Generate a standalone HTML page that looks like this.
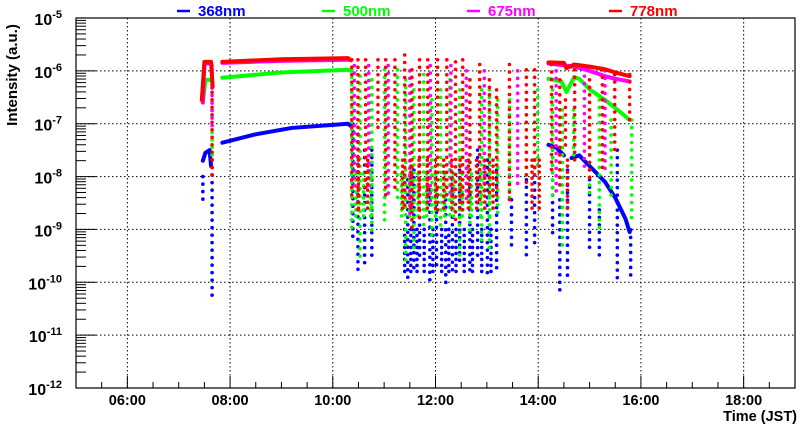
<!DOCTYPE html>
<html><head><meta charset="utf-8"><style>
html,body{margin:0;padding:0;background:#fff;}
svg{display:block;font-family:"Liberation Sans",sans-serif;font-weight:bold;}
</style></head><body>
<svg id="c" width="800" height="427" viewBox="0 0 800 427" xmlns="http://www.w3.org/2000/svg"></svg>
<script>
// ---- data (time in hours JST, value as log10 intensity) ----
const xTicks = [6, 8, 10, 12, 14, 16, 18];
const xTickLabels = ["06:00", "08:00", "10:00", "12:00", "14:00", "16:00", "18:00"];
const yDecades = [-12, -11, -10, -9, -8, -7, -6, -5];
const seriesNames = ["368nm", "500nm", "675nm", "778nm"];
const seriesColors = ["#0000ff", "#00ff00", "#ff00ff", "#ff0000"];

const blueLines = [
  [[7.47,-7.7],[7.52,-7.55],[7.6,-7.5],[7.63,-7.8]],
  [[7.85,-7.36],[8.5,-7.2],[9.2,-7.08],[10.3,-7.0],[10.36,-7.05]],
  [[14.2,-7.4],[14.35,-7.45],[14.5,-7.6]],
  [[14.65,-7.65],[14.8,-7.6],[15.0,-7.8],[15.3,-8.1],[15.5,-8.4],[15.7,-8.8],[15.78,-9.05]]
];
const blueCols = [
  [7.47,-8.0,-8.5],[7.65,-7.69,-10.33],[10.39,-7.0,-9.2],[10.49,-7.2,-9.77],[10.62,-7.5,-9.68],[10.76,-7.5,-9.5],
  [11.46,-8.06,-9.96],[11.58,-7.88,-9.77],[11.69,-7.5,-9.58],[11.89,-8.25,-9.96],[12.02,-8.25,-9.77],
  [12.2,-8.44,-10.05],[12.33,-8.06,-9.77],[12.47,-7.88,-9.68],[12.67,-8.06,-9.77],[12.82,-7.5,-9.58],
  [13.01,-7.69,-9.96],[13.19,-7.88,-9.86],[13.48,-8.44,-9.39],[13.77,-8.06,-9.48],[13.93,-7.69,-9.3],
  [14.28,-7.5,-9.2],[14.42,-8.44,-10.15],[14.57,-7.88,-9.96],[15.0,-8.06,-9.39],[15.19,-8.63,-9.58],
  [15.54,-7.5,-10.05],[15.8,-9.01,-9.96]
];
const blueBand = [11.4,11.52,11.64,11.78,11.95,12.12,12.26,12.4,12.56,12.72,12.9,13.08];
const greenLines = [
  [[7.47,-6.6],[7.52,-6.17],[7.62,-6.17]],
  [[7.85,-6.13],[9,-6.03],[10.3,-5.98],[10.36,-6.0]],
  [[14.2,-6.15],[14.45,-6.2],[14.55,-6.4],[14.7,-6.12],[14.8,-6.15],[15.0,-6.35],[15.3,-6.55],[15.5,-6.7],[15.78,-6.93]]
];
const greenCols = [
  [7.65,-6.17,-7.69],[10.37,-5.98,-9.01],[10.53,-6.1,-9.58],[10.76,-6.17,-9.01],[11.01,-5.98,-8.82],
  [11.26,-5.98,-8.44],[11.42,-6.17,-9.58],[11.58,-6.36,-9.39],[11.77,-6.07,-9.01],[11.93,-6.55,-9.2],
  [12.1,-6.36,-9.01],[12.28,-6.17,-8.82],[12.47,-6.36,-9.58],[12.67,-6.17,-9.01],[12.9,-6.36,-9.2],
  [13.05,-6.36,-9.39],[13.21,-6.55,-8.82],[13.44,-6.55,-8.44],[13.77,-6.55,-8.06],[13.99,-6.36,-7.88],
  [14.28,-6.36,-8.44],[14.47,-6.74,-9.39],[14.69,-6.74,-7.69],[15.0,-7.31,-8.44],[15.19,-6.55,-9.01],
  [15.42,-6.93,-8.44],[15.82,-6.93,-8.82]
];
const greenBand = [10.45,10.6,10.74,11.34,11.5,11.66,11.83,12.0,12.18,12.35,12.52,12.7,12.88,13.05];
const magentaLines = [
  [[7.47,-6.6],[7.50,-5.86],[7.63,-5.86]],
  [[7.85,-5.85],[9,-5.81],[10.3,-5.79]],
  [[14.2,-5.86],[14.7,-5.92],[15.0,-6.0],[15.3,-6.1],[15.5,-6.15],[15.78,-6.2]]
];
const magentaCols = [
  [7.65,-5.9,-7.1],[10.42,-5.9,-8.3],[10.7,-5.9,-8.2],[11.08,-5.9,-8.4],[11.5,-6.0,-8.7],[11.9,-5.9,-8.5],
  [12.3,-5.9,-8.4],[12.6,-6.0,-8.5],[12.95,-6.0,-8.4],[13.6,-6.0,-8.2],[14.35,-6.0,-8.3],[14.9,-6.1,-7.9],[15.3,-6.0,-7.9]
];
const redLines = [
  [[7.45,-6.55],[7.50,-5.83],[7.63,-5.83],[7.66,-6.3]],
  [[7.85,-5.83],[9,-5.78],[10.3,-5.76],[10.35,-5.8]],
  [[14.2,-5.84],[14.5,-5.85],[14.55,-5.95],[14.7,-5.88],[15.0,-5.92],[15.3,-5.97],[15.5,-6.03],[15.78,-6.1]]
];
const redCols = [
  [7.65,-5.98,-8.06],[10.37,-5.79,-8.44],[10.49,-5.79,-8.63],[10.64,-5.79,-8.25],[10.88,-5.79,-7.12],
  [11.03,-5.79,-8.44],[11.21,-5.79,-8.25],[11.40,-5.7,-8.63],[11.54,-5.98,-9.01],[11.69,-5.79,-8.82],
  [11.85,-5.79,-8.44],[12.04,-5.79,-8.63],[12.22,-5.79,-8.44],[12.39,-5.83,-8.82],[12.53,-5.79,-8.63],
  [12.67,-6.17,-8.44],[12.86,-5.88,-8.44],[13.05,-6.17,-8.44],[13.19,-6.36,-8.44],[13.44,-5.88,-8.44],
  [13.77,-5.98,-8.25],[13.93,-5.98,-8.06],[14.26,-5.88,-7.88],[14.42,-6.17,-8.25],[14.53,-6.55,-7.5],
  [14.71,-5.98,-7.69],[15.0,-6.17,-8.06],[15.25,-5.98,-7.88],[15.49,-6.07,-7.5],[15.78,-6.07,-6.93]
];
const redBand = [10.5,10.68,11.36,11.52,11.68,11.84,12.0,12.16,12.32,12.48,12.64,12.8,12.96,13.12,13.88,14.02,14.57];

// ---- axes ----
const L = 76, R = 795, T = 18, B = 388;
const tMin = 5, tMax = 19, lMin = -12, lMax = -5;
const X = t => L + (t - tMin) / (tMax - tMin) * (R - L);
const Y = v => B - (v - lMin) / (lMax - lMin) * (B - T);

const svg = document.getElementById('c');
const NS = 'http://www.w3.org/2000/svg';
function mk(tag, attrs, parent) {
  const e = document.createElementNS(NS, tag);
  for (const k in attrs) e.setAttribute(k, attrs[k]);
  (parent || svg).appendChild(e);
  return e;
}

const frame = mk('rect', {x: L, y: T, width: R - L, height: B - T, fill: '#fff', stroke: 'none'});



const grid = mk('g', {stroke: '#000', 'stroke-width': 1, 'stroke-dasharray': '1.5 2.5'});


xTicks.forEach(t => mk('line', {x1: X(t), x2: X(t), y1: T, y2: B}, grid));
yDecades.slice(1, -1).forEach(d => mk('line', {x1: L, x2: R, y1: Y(d), y2: Y(d)}, grid));

function drawSeries(name, color, lines, cols, band, bandTop, bandBot) {
  const g = mk('g', {});
  
  
  cols.forEach(c => {
    const ln = mk('line', {x1: X(c[0]), x2: X(c[0]), y1: Y(c[1]), y2: Y(c[2]), stroke: color, 'stroke-width': 3.6, 'stroke-linecap': 'round', 'stroke-dasharray': '0 7.5'}, g);
    
    
  });
  if (band) band.forEach(t => {
    const ln = mk('line', {x1: X(t), x2: X(t), y1: Y(bandTop), y2: Y(bandBot), stroke: color, 'stroke-width': 3.6, 'stroke-linecap': 'round', 'stroke-dasharray': '0 6'}, g);
    
    
  });
  lines.forEach(seg => {
    const p = mk('polyline', {points: seg.map(q => X(q[0]) + ',' + Y(q[1])).join(' '), fill: 'none', stroke: color, 'stroke-width': 4, 'stroke-linejoin': 'round', 'stroke-linecap': 'round'}, g);
    
    
  });
}
drawSeries('368nm', seriesColors[0], blueLines, blueCols, blueBand, -9.0, -9.9);
drawSeries('500nm', seriesColors[1], greenLines, greenCols, greenBand, -7.95, -8.82);
drawSeries('675nm', seriesColors[2], magentaLines, magentaCols, null);
drawSeries('778nm', seriesColors[3], redLines, redCols, redBand, -7.69, -8.6);

const border = mk('rect', {x: L, y: T, width: R - L, height: B - T, fill: 'none', stroke: '#000', 'stroke-width': 1.2});



const yAx = mk('g', {stroke: '#000', 'stroke-width': 1});


yDecades.forEach((d, i) => {
  mk('line', {x1: L, x2: L + 20, y1: Y(d), y2: Y(d)}, yAx);
  if (i < yDecades.length - 1) for (let m = 2; m <= 9; m++) {
    const yy = Y(d + Math.log10(m));
    mk('line', {x1: L, x2: L + 10, y1: yy, y2: yy}, yAx);
  }
});
yDecades.forEach(d => {
  const t = mk('text', {x: 62, y: Y(d) + 7, 'text-anchor': 'end', 'font-size': 16, fill: '#000'});
  
  
  t.innerHTML = '10<tspan dy="-7" font-size="11">' + d + '</tspan>';
});

const xAx = mk('g', {stroke: '#000', 'stroke-width': 1});


for (let t = tMin + 0.5; t < tMax; t += 0.5) {
  const major = xTicks.includes(t);
  mk('line', {x1: X(t), x2: X(t), y1: B, y2: B - (major ? 12 : 6)}, xAx);
}
xTicks.forEach((t, i) => {
  const e = mk('text', {x: X(t), y: 405, 'text-anchor': 'middle', 'font-size': 14.5, fill: '#000'});
  
  
  e.textContent = xTickLabels[i];
});
const xt = mk('text', {x: 797, y: 421, 'text-anchor': 'end', 'font-size': 14.5, fill: '#000'});


xt.textContent = 'Time (JST)';
const yt = mk('text', {x: 0, y: 0, 'text-anchor': 'middle', 'font-size': 15, fill: '#000', transform: 'translate(17,75) rotate(-90)'});


yt.textContent = 'Intensity (a.u.)';

const legX = [177, 322, 467, 609];
seriesNames.forEach((n, i) => {
  const g = mk('g', {});
  
  
  mk('line', {x1: legX[i], x2: legX[i] + 13, y1: 11, y2: 11, stroke: seriesColors[i], 'stroke-width': 2.5}, g);
  const t = mk('text', {x: legX[i] + 21, y: 16, 'font-size': 15, fill: seriesColors[i]}, g);
  t.textContent = n;
});
</script>
</body></html>
